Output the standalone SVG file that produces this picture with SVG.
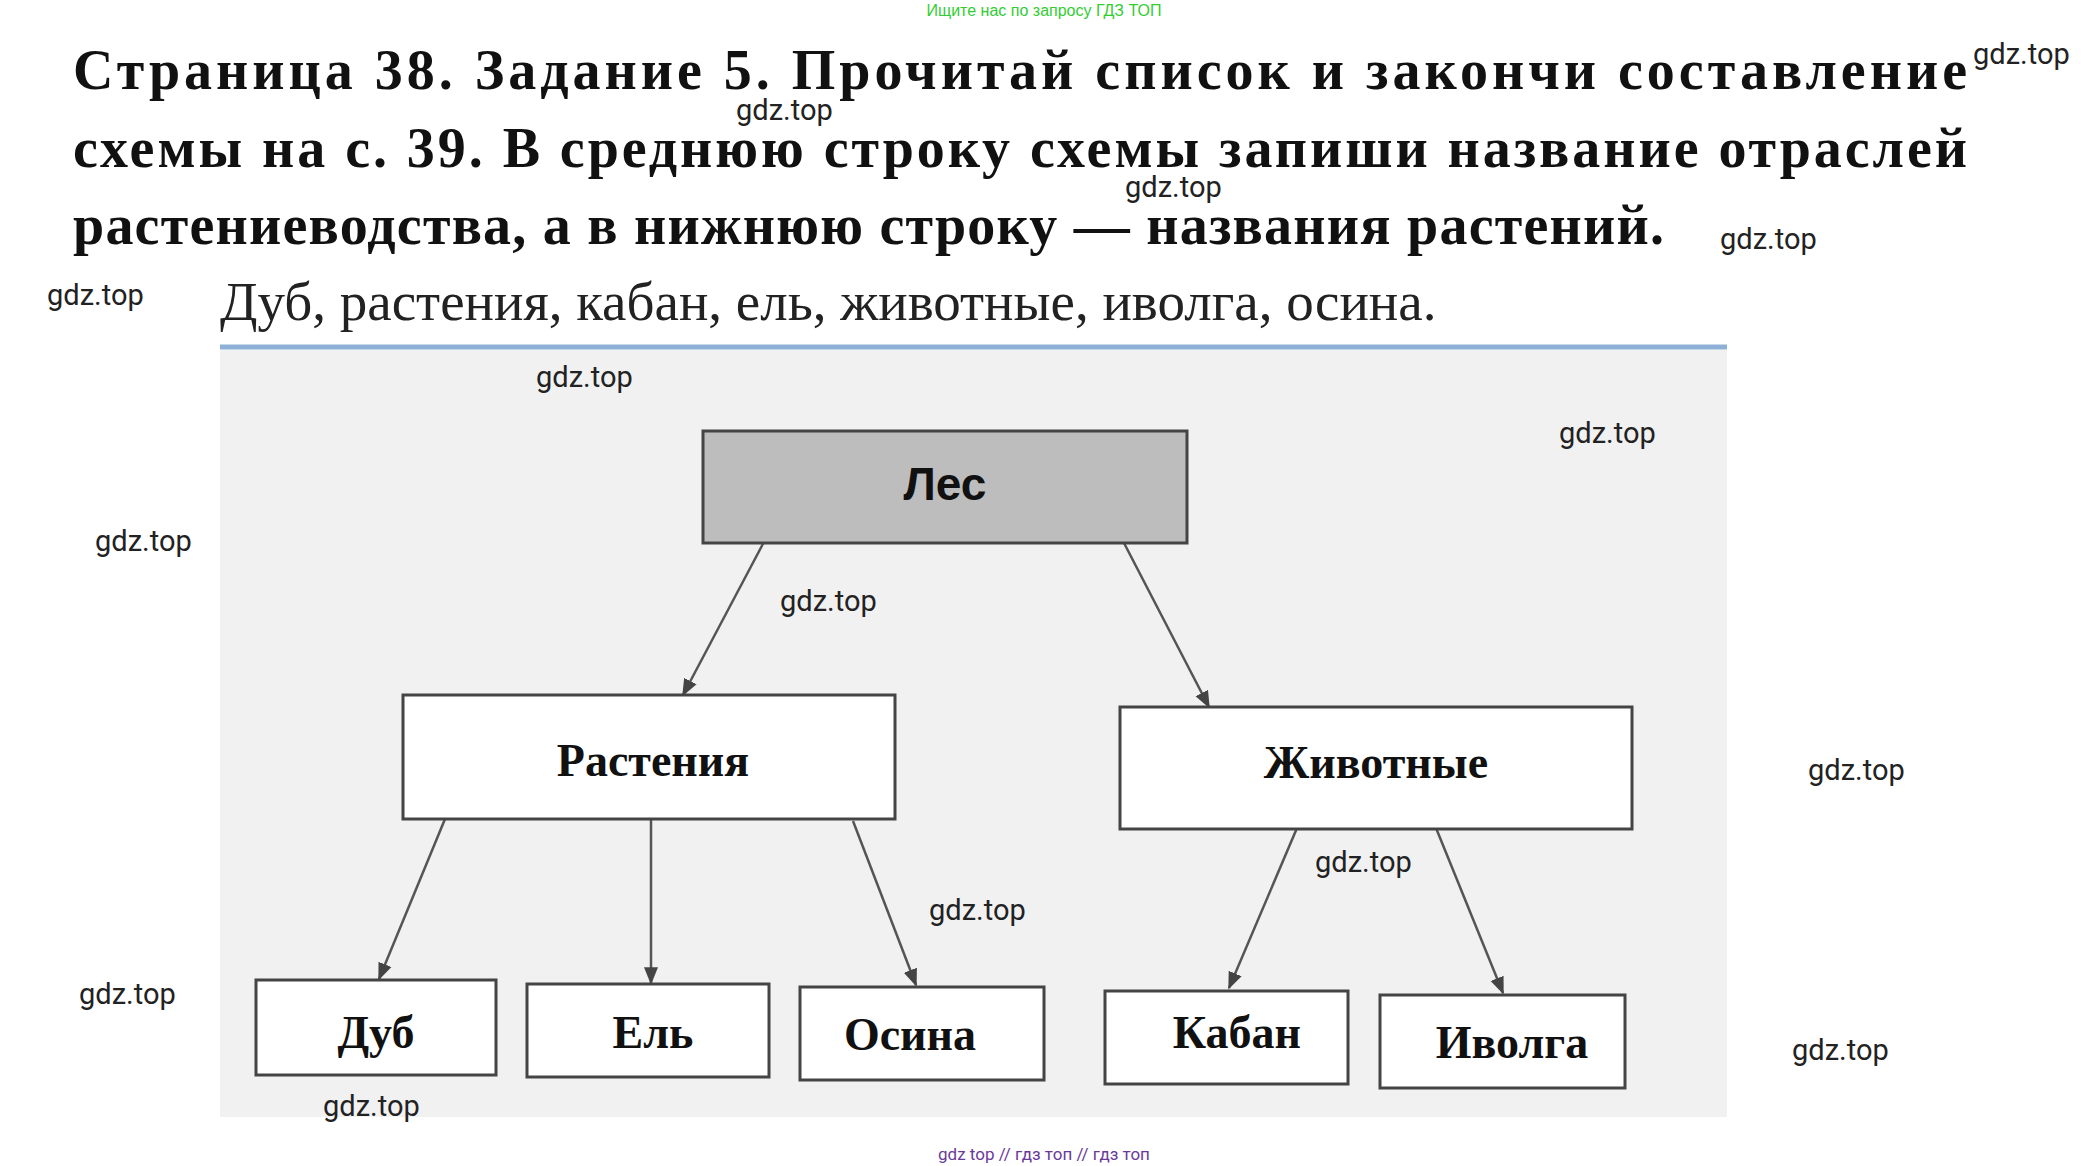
<svg xmlns="http://www.w3.org/2000/svg" width="2084" height="1166" viewBox="0 0 2084 1166">
<defs>
<marker id="ah" viewBox="0 0 10 10" refX="9" refY="5" markerWidth="7" markerHeight="7" orient="auto"><path d="M0,1 L10,5 L0,9 z" fill="#444"/></marker>
</defs>
<style>
.h{font-family:"Liberation Serif",serif;font-weight:bold;font-size:56px;fill:#111}
.w{font-family:"Roboto","Liberation Sans",sans-serif;font-size:29px;fill:#222}
.box{fill:#fff;stroke:#444;stroke-width:3}
.lb{font-family:"Liberation Serif",serif;font-weight:bold;font-size:46px;fill:#111;text-anchor:middle}
.c line{stroke:#555;stroke-width:2.5;marker-end:url(#ah)}
</style>
<rect width="2084" height="1166" fill="#fff"/>
<text x="1044" y="16" font-family="Liberation Sans,sans-serif" font-size="16" fill="#3c3" text-anchor="middle">Ищите нас по запросу ГДЗ ТОП</text>
<text class="h" x="73" y="89" textLength="1894" lengthAdjust="spacing">Страница 38. Задание 5. Прочитай список и закончи составление</text>
<text class="h" x="73" y="167" textLength="1894" lengthAdjust="spacing">схемы на с. 39. В среднюю строку схемы запиши название отраслей</text>
<text class="h" x="73" y="244" textLength="1591" lengthAdjust="spacing">растениеводства, а в нижнюю строку — названия растений.</text>
<text x="220" y="320" font-family="Liberation Serif,serif" font-size="55" fill="#222">Дуб, растения, кабан, ель, животные, иволга, осина.</text>
<rect x="220" y="350" width="1507" height="767" fill="#f1f1f2"/>
<line x1="220" y1="347" x2="1727" y2="347" stroke="#8fb0d6" stroke-width="5"/>
<g class="c">
<line x1="765" y1="540" x2="683" y2="695"/>
<line x1="1124" y1="543" x2="1209" y2="707"/>
<line x1="445" y1="819" x2="379" y2="979"/>
<line x1="651" y1="819" x2="651" y2="983"/>
<line x1="853" y1="821" x2="916" y2="985"/>
<line x1="1297" y1="828" x2="1229" y2="988"/>
<line x1="1436" y1="828" x2="1503" y2="993"/>
</g>
<g id="les"><rect x="703" y="431" width="484" height="112" fill="#bdbdbd" stroke="#444" stroke-width="3"/><text class="lb" x="945" y="500" style="font-family:'Liberation Sans',sans-serif">Лес</text></g>
<g id="rast"><rect class="box" x="403" y="695" width="492" height="124"/><text class="lb" x="653" y="776">Растения</text></g>
<g id="zhiv"><rect class="box" x="1120" y="707" width="512" height="122"/><text class="lb" x="1376" y="778">Животные</text></g>
<g id="dub"><rect class="box" x="256" y="980" width="240" height="95"/><text class="lb" x="376" y="1048">Дуб</text></g>
<g id="el"><rect class="box" x="527" y="984" width="242" height="93"/><text class="lb" x="653" y="1048">Ель</text></g>
<g id="osina"><rect class="box" x="800" y="987" width="244" height="93"/><text class="lb" x="910" y="1050">Осина</text></g>
<g id="kaban"><rect class="box" x="1105" y="991" width="243" height="93"/><text class="lb" x="1237" y="1048">Кабан</text></g>
<g id="ivolga"><rect class="box" x="1380" y="995" width="245" height="93"/><text class="lb" x="1512" y="1058">Иволга</text></g>
<g>
<text class="w" x="1973" y="64">gdz.top</text>
<text class="w" x="736" y="120">gdz.top</text>
<text class="w" x="1125" y="197">gdz.top</text>
<text class="w" x="1720" y="249">gdz.top</text>
<text class="w" x="47" y="305">gdz.top</text>
<text class="w" x="536" y="387">gdz.top</text>
<text class="w" x="1559" y="443">gdz.top</text>
<text class="w" x="95" y="551">gdz.top</text>
<text class="w" x="780" y="611">gdz.top</text>
<text class="w" x="1808" y="780">gdz.top</text>
<text class="w" x="1315" y="872">gdz.top</text>
<text class="w" x="929" y="920">gdz.top</text>
<text class="w" x="79" y="1004">gdz.top</text>
<text class="w" x="1792" y="1060">gdz.top</text>
<text class="w" x="323" y="1116">gdz.top</text>
</g>
<text x="1044" y="1160" font-family="Roboto,Liberation Sans,sans-serif" font-size="17" fill="#6a3a9a" text-anchor="middle">gdz top // гдз топ // гдз топ</text>
</svg>
